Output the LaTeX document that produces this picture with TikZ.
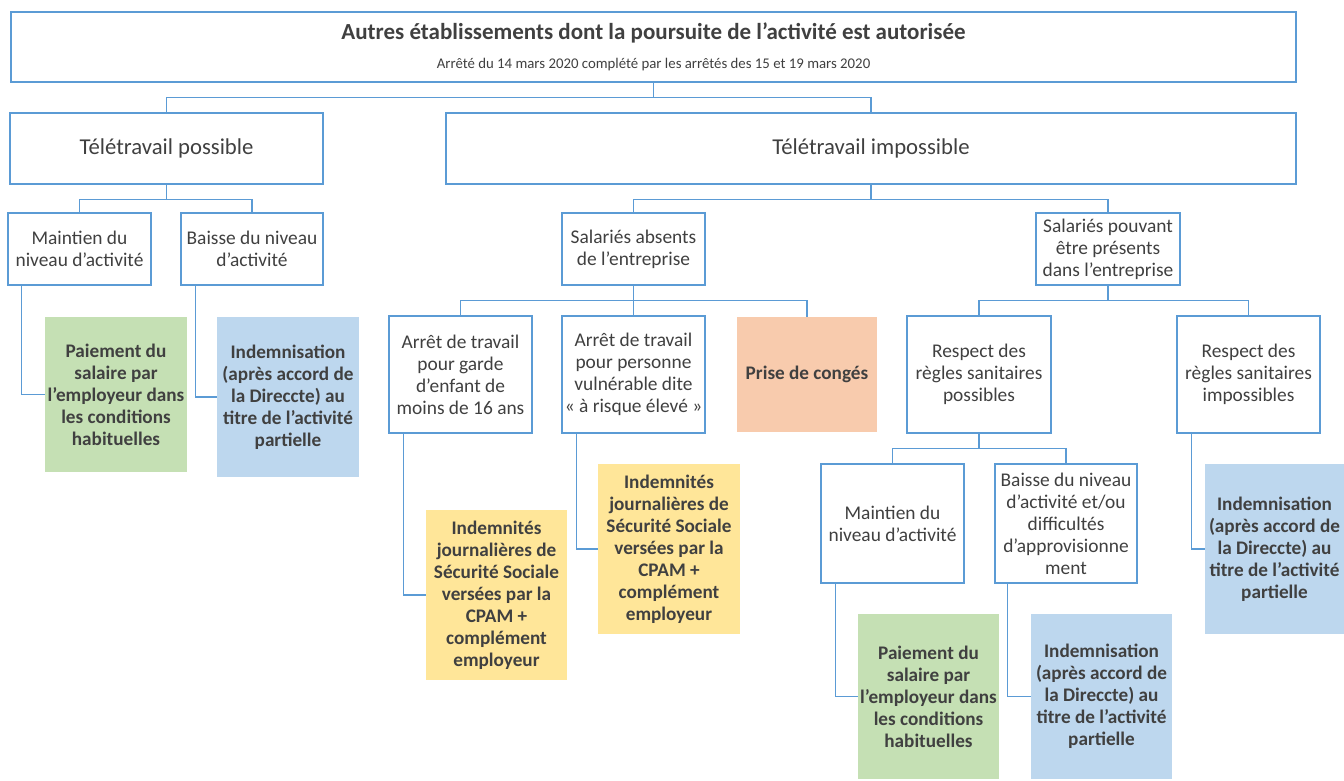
\documentclass[tikz,border=0pt]{standalone}
\usepackage{fontspec}
\setmainfont{Carlito}
\usepackage{tikz}
\definecolor{boxblue}{RGB}{91, 155, 213}
\definecolor{textgray}{RGB}{64, 64, 64}
\definecolor{paygreen}{RGB}{197, 224, 180}
\definecolor{aidblue}{RGB}{189, 215, 238}
\definecolor{ijyellow}{RGB}{255, 230, 153}
\definecolor{leaveorange}{RGB}{248, 203, 173}
\tikzstyle{block} = [rectangle, draw=boxblue, line width=1.3pt, fill=white,
    text=textgray, align=center, inner sep=2pt,
    font=\fontsize{19.4}{22}\selectfont]
\tikzstyle{outcome} = [rectangle, text=textgray, align=center, inner sep=2pt,
    font=\fontsize{19.2}{22}\selectfont\bfseries]
\tikzstyle{line} = [draw=boxblue, line width=1.3pt]

\begin{document}
\begin{tikzpicture}[x=1pt, y=-1pt]
  \useasboundingbox (0,0) rectangle (1344,781);
  \node [block, minimum width=1285pt, minimum height=70pt] (autres) at (653.5,47)
    {{\fontsize{23}{27}\selectfont\bfseries Autres établissements dont la poursuite de l’activité est autorisée}\\[7pt]
     {\fontsize{14.8}{17}\selectfont Arrêté du 14 mars 2020 complété par les arrêtés des 15 et 19 mars 2020}};
  \node [block, minimum width=313pt, minimum height=71pt, font=\fontsize{22.7}{26}\selectfont] (tele_possible) at (166.5,148.5) {Télétravail possible};
  \path [line] (autres.south) -- ++(0,15) -| (tele_possible.north);
  \node [block, minimum width=850pt, minimum height=71pt, font=\fontsize{22.7}{26}\selectfont] (tele_impossible) at (871,148.5) {Télétravail impossible};
  \path [line] (autres.south) -- ++(0,15) -| (tele_impossible.north);

  \node [block, minimum width=143pt, minimum height=72pt] (maintien) at (79.5,249) {Maintien du\\niveau d’activité};
  \path [line] (tele_possible.south) -- ++(0,15) -| (maintien.north);
  \node [block, minimum width=142pt, minimum height=72pt] (baisse) at (252,249) {Baisse du niveau\\d’activité};
  \path [line] (tele_possible.south) -- ++(0,15) -| (baisse.north);
  \node [outcome, fill=paygreen, minimum width=142pt, minimum height=155pt] (paiement) at (116,394.5) {Paiement du\\salaire par\\l’employeur dans\\les conditions\\habituelles};
  \path [line] (maintien.south west) ++(14,0) |- (paiement.west);
  \node [outcome, fill=aidblue, minimum width=142pt, minimum height=160pt] (indemnisation) at (288,397) {Indemnisation\\(après accord de\\la Direccte) au\\titre de l’activité\\partielle};
  \path [line] (baisse.south west) ++(15,0) |- (indemnisation.west);

  \node [block, minimum width=143pt, minimum height=72pt] (absents) at (633.5,249) {Salariés absents\\de l’entreprise};
  \path [line] (tele_impossible.south) -- ++(0,15) -| (absents.north);
  \node [block, minimum width=144pt, minimum height=72pt] (presents) at (1108,249) {Salariés pouvant\\être présents\\dans l’entreprise};
  \path [line] (tele_impossible.south) -- ++(0,15) -| (presents.north);

  \node [block, minimum width=143pt, minimum height=117pt] (garde) at (460.5,374.5) {Arrêt de travail\\pour garde\\d’enfant de\\moins de 16 ans};
  \path [line] (absents.south) -- ++(0,15) -| (garde.north);
  \node [block, minimum width=143pt, minimum height=117pt] (vulnerable) at (633.5,374.5) {Arrêt de travail\\pour personne\\vulnérable dite\\« à risque élevé »};
  \path [line] (absents.south) -- (vulnerable.north);
  \node [outcome, fill=leaveorange, minimum width=140pt, minimum height=115pt] (conges) at (807,374.5) {Prise de congés};
  \path [line] (absents.south) -- ++(0,15) -| (conges.north);

  \node [outcome, fill=ijyellow, minimum width=141pt, minimum height=170pt] (ij_garde) at (496.5,595) {Indemnités\\journalières de\\Sécurité Sociale\\versées par la\\CPAM +\\complément\\employeur};
  \path [line] (garde.south west) ++(15,0) |- (ij_garde.west);
  \node [outcome, fill=ijyellow, minimum width=142pt, minimum height=170pt] (ij_vulnerable) at (669,549) {Indemnités\\journalières de\\Sécurité Sociale\\versées par la\\CPAM +\\complément\\employeur};
  \path [line] (vulnerable.south west) ++(15,0) |- (ij_vulnerable.west);

  \node [block, minimum width=144pt, minimum height=117pt] (regles_possibles) at (979,374.5) {Respect des\\règles sanitaires\\possibles};
  \path [line] (presents.south) -- ++(0,15) -| (regles_possibles.north);
  \node [block, minimum width=143pt, minimum height=117pt] (regles_impossibles) at (1248.5,374.5) {Respect des\\règles sanitaires\\impossibles};
  \path [line] (presents.south) -- ++(0,15) -| (regles_impossibles.north);
  \node [outcome, fill=aidblue, minimum width=139pt, minimum height=170pt] (indemnisation_ko) at (1274.5,549) {Indemnisation\\(après accord de\\la Direccte) au\\titre de l’activité\\partielle};
  \path [line] (regles_impossibles.south west) ++(15,0) |- (indemnisation_ko.west);

  \node [block, minimum width=143pt, minimum height=119pt] (maintien_sur_site) at (892.5,523.5) {Maintien du\\niveau d’activité};
  \path [line] (regles_possibles.south) -- ++(0,15) -| (maintien_sur_site.north);
  \node [block, minimum width=142pt, minimum height=119pt] (baisse_sur_site) at (1066,523.5) {Baisse du niveau\\d’activité et/ou\\difficultés\\d’approvisionne\\ment};
  \path [line] (regles_possibles.south) -- ++(0,15) -| (baisse_sur_site.north);
  \node [outcome, fill=paygreen, minimum width=141pt, minimum height=165pt] (paiement_sur_site) at (928.5,696.5) {Paiement du\\salaire par\\l’employeur dans\\les conditions\\habituelles};
  \path [line] (maintien_sur_site.south west) ++(15,0) |- (paiement_sur_site.west);
  \node [outcome, fill=aidblue, minimum width=141pt, minimum height=165pt] (indemnisation_sur_site) at (1101.5,696.5) {Indemnisation\\(après accord de\\la Direccte) au\\titre de l’activité\\partielle};
  \path [line] (baisse_sur_site.south west) ++(13,0) |- (indemnisation_sur_site.west);
\end{tikzpicture}
\end{document}
